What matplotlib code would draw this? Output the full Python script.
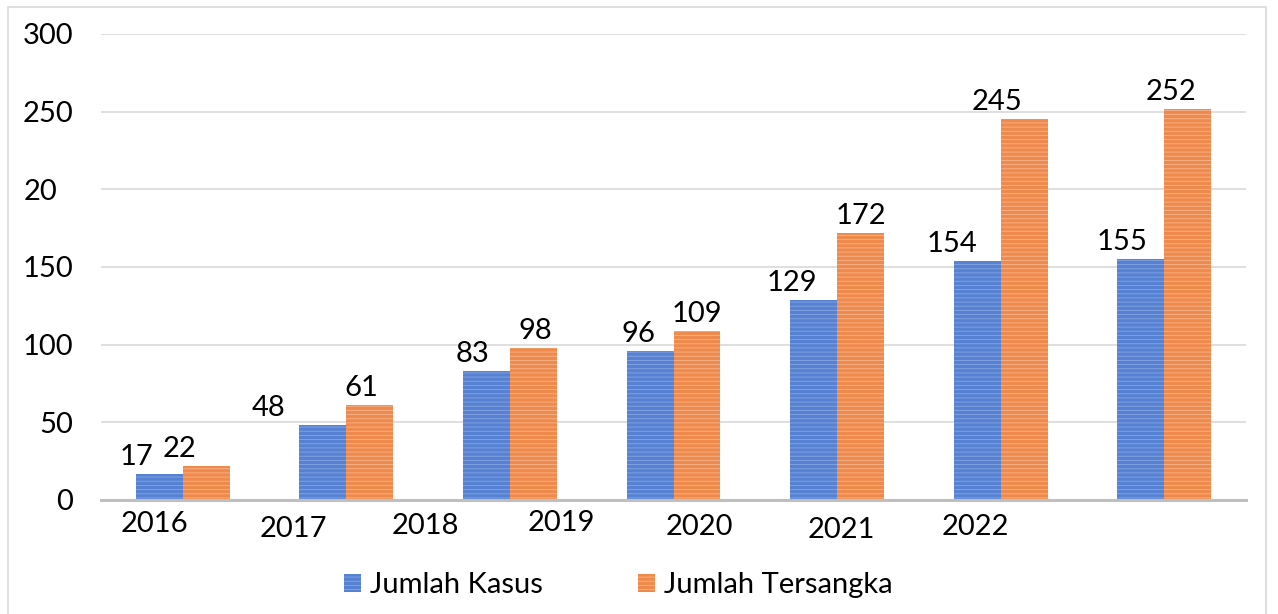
import matplotlib.pyplot as plt
import matplotlib.transforms as mtransforms
from matplotlib.patches import Rectangle
import numpy as np

plt.rcParams["font.family"] = ["Lato", "DejaVu Sans"]

# data
years = ["2016", "2017", "2018", "2019", "2020", "2021", "2022"]
kasus = [17, 48, 83, 96, 129, 154, 155]
tersangka = [22, 61, 98, 109, 172, 245, 252]
y_ticks = [0, 50, 100, 150, 200, 250, 300]
y_tick_labels = ["0", "50", "100", "150", "20", "250", "300"]
series_names = ["Jumlah Kasus", "Jumlah Tersangka"]

# layout quirks of the original picture (px)
year_label_x = [-0.176, 0.679, 1.485, 2.316, 3.159, 4.027, 4.845]
year_label_drop = [32, 37, 34, 31, 35, 38, 35]
kasus_label_dx = [-23, -54, -14, -12, -22, -25, -19]
tersangka_label_dx = [-27, -8, 2, 0, 0, -27, -17]

BLUE = "#5781D2"
BLUE_STRIPE = "#86A6E2"
ORANGE = "#F08A4C"
ORANGE_STRIPE = "#F6B58C"
GRID = "#D9D9D9"
FS = 21
PX = 0.72  # points per pixel at dpi 100

fig = plt.figure(figsize=(12.78, 6.14), dpi=100)
ax = fig.add_axes([0.079, 0.1857, 0.896, 0.759])

x = np.arange(len(years))
w = 0.287
plt.rcParams["hatch.linewidth"] = 0.6
b1 = ax.bar(x - w / 2, kasus, w, color=BLUE, edgecolor=BLUE_STRIPE,
            hatch="----", linewidth=0, label=series_names[0], zorder=2)
b2 = ax.bar(x + w / 2, tersangka, w, color=ORANGE, edgecolor=ORANGE_STRIPE,
            hatch="----", linewidth=0, label=series_names[1], zorder=2)

for bars, vals, dxs in [(b1, kasus, kasus_label_dx), (b2, tersangka, tersangka_label_dx)]:
    for bar, v, dx in zip(bars, vals, dxs):
        ax.annotate(str(v), (bar.get_x() + bar.get_width() / 2, v),
                    xytext=(dx * PX, 9 * PX), textcoords="offset points",
                    ha="center", va="baseline", fontsize=FS, color="black",
                    annotation_clip=False)

ax.set_xlim(-0.5, len(years) - 0.5)
ax.set_ylim(0, 300)

ax.set_yticks(y_ticks, y_tick_labels)
ax.tick_params(axis="y", length=0, pad=28 * PX, labelsize=FS)
# the "20" label sits flush left with the 3-digit labels
for lab in ax.get_yticklabels():
    if lab.get_text() == "20":
        lab.set_transform(lab.get_transform() + mtransforms.ScaledTranslation(-16 / 100, 0, fig.dpi_scale_trans))

ax.set_xticks([])
for lx, drop, label in zip(year_label_x, year_label_drop, years):
    ax.annotate(label, (lx, 0), xytext=(0, -drop * PX), textcoords="offset points",
                ha="center", va="baseline", fontsize=FS, annotation_clip=False)

ax.yaxis.grid(True, color=GRID, linewidth=1.2, zorder=0)
ax.set_axisbelow(True)
for side in ["top", "right", "left"]:
    ax.spines[side].set_visible(False)
ax.spines["bottom"].set_color("#BFBFBF")
ax.spines["bottom"].set_linewidth(2.2)
ax.spines["bottom"].set_zorder(3)

fig.legend(handles=[b1, b2], labels=series_names, loc="center",
           bbox_to_anchor=(0.484, 0.047), ncol=2, frameon=False, fontsize=FS,
           handlelength=0.58, handleheight=0.58, handletextpad=0.31,
           columnspacing=3.25)

fig.patches.append(Rectangle((8 / 1278, -0.01), 1258 / 1278, 1 - 7 / 614 + 0.01,
                             transform=fig.transFigure, fill=False,
                             edgecolor=GRID, linewidth=1.2))

fig.savefig("out.png", dpi=100)
